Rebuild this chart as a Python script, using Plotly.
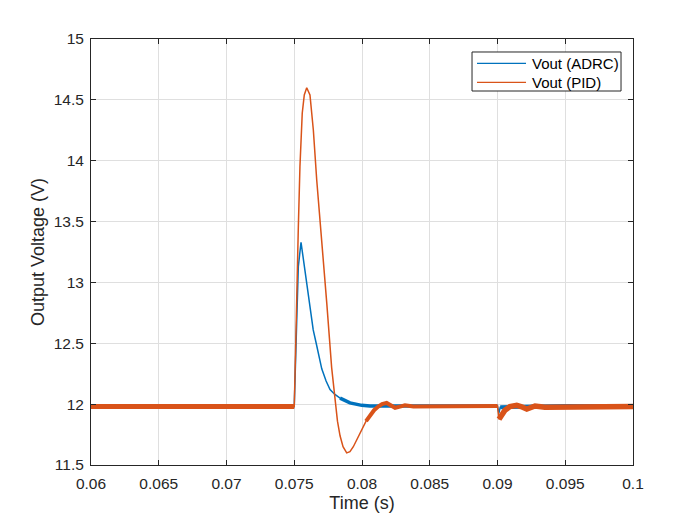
import plotly.graph_objects as go

# ---- data (time in s, voltage in V) ----
adrc_t = [0.0600, 0.0750, 0.07520, 0.07530, 0.07550, 0.07579, 0.07590, 0.07616,
          0.07640, 0.07664, 0.07703, 0.07735, 0.07764, 0.07800, 0.07838, 0.07911,
          0.07998, 0.08059, 0.0830, 0.0900, 0.09010, 0.09020, 0.0950, 0.1000]
adrc_v = [11.98, 11.98, 12.75, 13.13, 13.33, 13.10, 13.00, 12.77,
          12.61, 12.49, 12.29, 12.19, 12.12, 12.08, 12.05, 12.01,
          11.99, 11.985, 11.985, 11.985, 11.925, 11.975, 11.985, 11.98]

pid_t = [0.0600, 0.0750, 0.07509, 0.07518, 0.07530, 0.07542, 0.07559, 0.07574,
         0.07592, 0.07616, 0.07641, 0.07666, 0.07697, 0.07722, 0.07740, 0.07776,
         0.07801, 0.07819, 0.07838, 0.07860, 0.07887, 0.07911, 0.07936, 0.07963,
         0.07998, 0.08030, 0.08059, 0.08089, 0.08120, 0.08148, 0.08182, 0.08214,
         0.08244, 0.08280, 0.08317, 0.08379, 0.0900, 0.09011, 0.09055, 0.09092,
         0.09142, 0.09173, 0.09216, 0.09277, 0.0935, 0.1000]
pid_v = [11.98, 11.98, 12.40, 12.95, 13.45, 13.95, 14.39, 14.54,
         14.60, 14.54, 14.25, 13.84, 13.43, 13.08, 12.83, 12.30,
         12.01, 11.86, 11.74, 11.65, 11.60, 11.61, 11.65, 11.71,
         11.79, 11.86, 11.91, 11.95, 11.98, 12.00, 12.01, 11.99,
         11.97, 11.98, 11.99, 11.98, 11.985, 11.875, 11.95, 11.98,
         11.99, 11.98, 11.96, 11.985, 11.975, 11.98]

series_names = ["Vout (ADRC)", "Vout (PID)"]

# steady-state windows where switching ripple makes the trace a thick band
adrc_ripple_windows = [(0.0600, 0.0750), (0.07838, 0.0900), (0.09020, 0.1000)]
pid_ripple_windows = [(0.0600, 0.0750), (0.08030, 0.0900), (0.09011, 0.1000)]

x_ticks = [0.06, 0.065, 0.07, 0.075, 0.08, 0.085, 0.09, 0.095, 0.1]
x_labels = ["0.06", "0.065", "0.07", "0.075", "0.08", "0.085", "0.09", "0.095", "0.1"]
y_ticks = [11.5, 12, 12.5, 13, 13.5, 14, 14.5, 15]
y_labels = ["11.5", "12", "12.5", "13", "13.5", "14", "14.5", "15"]

BLUE = "#0072BD"
ORANGE = "#D95319"
AX = "#262626"
FONT = "Liberation Sans, Arial, Helvetica, sans-serif"


def window(ts, vs, lo, hi):
    sel = [(t, v) for t, v in zip(ts, vs) if lo - 1e-9 <= t <= hi + 1e-9]
    return [s[0] for s in sel], [s[1] for s in sel]


fig = go.Figure()

fig.add_trace(go.Scatter(x=adrc_t, y=adrc_v, mode="lines", name=series_names[0],
                         line=dict(color=BLUE, width=1.5)))
adrc_widths = [4, 3.5, 4]
for (lo, hi), w in zip(adrc_ripple_windows, adrc_widths):
    wt, wv = window(adrc_t, adrc_v, lo, hi)
    fig.add_trace(go.Scatter(x=wt, y=wv, mode="lines", showlegend=False,
                             hoverinfo="skip", line=dict(color=BLUE, width=w)))

fig.add_trace(go.Scatter(x=pid_t, y=pid_v, mode="lines", name=series_names[1],
                         line=dict(color=ORANGE, width=1.5)))
pid_widths = [5, 4, 5.5]
for (lo, hi), w in zip(pid_ripple_windows, pid_widths):
    wt, wv = window(pid_t, pid_v, lo, hi)
    fig.add_trace(go.Scatter(x=wt, y=wv, mode="lines", showlegend=False,
                             hoverinfo="skip", line=dict(color=ORANGE, width=w)))

axis_common = dict(
    showline=True, linecolor=AX, linewidth=1, mirror="ticks",
    ticks="inside", ticklen=5, tickwidth=1, tickcolor=AX,
    showgrid=True, gridcolor="#DFDFDF", gridwidth=1, zeroline=False,
    tickfont=dict(family=FONT, size=15.5, color=AX),
)

fig.update_xaxes(range=[0.06, 0.1], tickvals=x_ticks, ticktext=x_labels,
                 title=dict(text="Time (s)", font=dict(family=FONT, size=18, color=AX),
                            standoff=5),
                 ticklabelstandoff=4, **axis_common)
fig.update_yaxes(range=[11.5, 15], tickvals=y_ticks, ticktext=y_labels,
                 title=dict(text="Output Voltage (V)", font=dict(family=FONT, size=18, color=AX),
                            standoff=4),
                 ticklabelstandoff=3, **axis_common)

# MATLAB-style legend box drawn in paper coordinates (top-right, inside axes)
legend_box = dict(x0=0.7030, x1=0.9779, y0=0.8779, y1=0.9695)
legend_rows_y = [0.9430, 0.8984]
legend_line_x = (0.7122, 0.8026)
legend_text_x = 0.8100
shapes = [dict(type="rect", xref="paper", yref="paper", layer="above",
               line=dict(color=AX, width=1), fillcolor="white", **legend_box)]
annotations = []
for name, col, yy in zip(series_names, [BLUE, ORANGE], legend_rows_y):
    shapes.append(dict(type="line", xref="paper", yref="paper", layer="above",
                       x0=legend_line_x[0], x1=legend_line_x[1], y0=yy, y1=yy,
                       line=dict(color=col, width=1.2)))
    annotations.append(dict(xref="paper", yref="paper", x=legend_text_x, y=yy,
                            xanchor="left", yanchor="middle", showarrow=False,
                            text=name, font=dict(family=FONT, size=15, color="black")))

# page body has an 8px margin, so the figure margins are offset to place the
# plot box where the reference has it
fig.update_layout(
    width=700, height=525,
    margin=dict(l=83, r=75, t=31, b=68, autoexpand=False),
    paper_bgcolor="white", plot_bgcolor="white",
    font=dict(family=FONT, color=AX),
    showlegend=False,
    shapes=shapes,
    annotations=annotations,
)

fig.write_html("out.html")
